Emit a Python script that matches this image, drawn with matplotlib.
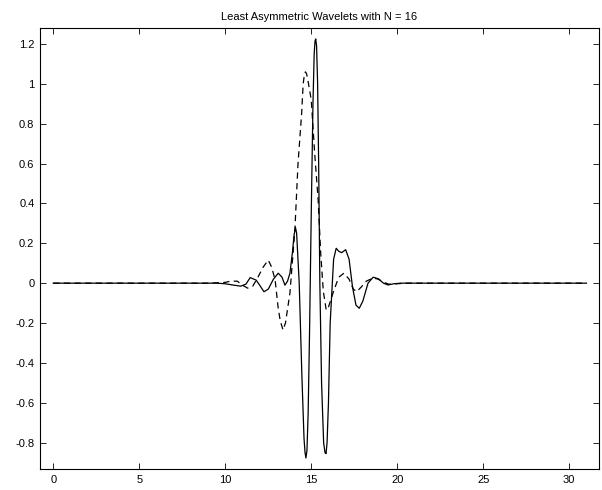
#!/usr/bin/env python

import matplotlib
matplotlib.use('Agg')

import numpy as np
from matplotlib import pyplot as plt

# wavelet function (solid)
psi_x = [0, 8.5, 9.5, 10.0, 10.5, 10.9, 11.2, 11.45, 11.8, 12.0, 12.25, 12.5, 12.8,
         13.08, 13.3, 13.47, 13.62, 13.76, 13.9, 14.0, 14.08, 14.15, 14.3, 14.45,
         14.58, 14.64, 14.69, 14.75, 14.82, 14.9, 15.0, 15.1, 15.17, 15.22, 15.26,
         15.31, 15.37, 15.43, 15.5, 15.6, 15.72, 15.8, 15.86, 15.92, 16.0, 16.1,
         16.3, 16.45, 16.6, 16.77, 17.0, 17.2, 17.4, 17.6, 17.79, 18.0, 18.3, 18.6,
         18.9, 19.2, 19.46, 19.8, 20.2, 31]
psi_y = [0, 0, 0, -0.003, -0.01, -0.015, -0.005, 0.028, 0.015, -0.01, -0.043, -0.03, 0.02,
         0.05, 0.03, -0.01, 0.01, 0.05, 0.15, 0.24, 0.28, 0.25, 0.0, -0.45,
         -0.78, -0.85, -0.877, -0.84, -0.65, -0.25, 0.35, 0.9, 1.15, 1.215, 1.225,
         1.19, 1.0, 0.6, 0.0, -0.5, -0.8, -0.85, -0.855, -0.8, -0.6, -0.2,
         0.12, 0.175, 0.16, 0.153, 0.168, 0.12, -0.02, -0.11, -0.126, -0.09, 0.0, 0.03,
         0.022, 0.0, -0.009, -0.003, 0.0, 0]

# scaling function (dashed)
phi_x = [0, 9.0, 10.0, 10.3, 10.7, 11.0, 11.3, 11.6, 11.9, 12.2, 12.5, 12.7, 12.9,
         13.07, 13.2, 13.36, 13.5, 13.76, 14.05, 14.23, 14.44, 14.53, 14.6, 14.66,
         14.73, 14.8, 15.0, 15.2, 15.4, 15.55, 15.7, 15.87, 16.0, 16.3, 16.6, 16.9,
         17.2, 17.45, 17.64, 17.9, 18.2, 18.6, 18.9, 19.2, 19.5, 20.0, 20.5, 31]
phi_y = [0, 0, 0.004, 0.01, 0.01, -0.01, -0.025, -0.015, 0.03, 0.08, 0.116, 0.08, 0.016,
         -0.12, -0.19, -0.235, -0.2, -0.05, 0.27, 0.6, 0.85, 1.0, 1.045, 1.06,
         1.05, 1.02, 0.92, 0.65, 0.42, 0.15, -0.04, -0.135, -0.12, -0.04, 0.03, 0.05,
         0.02, -0.03, -0.043, -0.02, 0.01, 0.026, 0.02, 0.005, -0.005, -0.003, 0.0, 0]

plt.rcParams['font.family'] = ['Liberation Sans', 'DejaVu Sans']
plt.rcParams['font.size'] = 8

fig = plt.figure(figsize=(6.02, 4.90), dpi=100)
ax = fig.add_axes([0.0664, 0.0429, 0.9286, 0.9])
ax.plot(psi_x, psi_y, 'k-', lw=0.9)
ax.plot(phi_x, phi_y, 'k--', lw=0.9, dashes=(5, 3.5))
ax.set_xlim(-0.773, 31.73)
ax.set_ylim(-0.932, 1.28)
ax.set_xticks(np.arange(0, 31, 5))
ax.set_yticks(np.arange(-0.8, 1.21, 0.2))
ax.set_yticklabels(['-0.8', '-0.6', '-0.4', '-0.2', '0', '0.2', '0.4', '0.6', '0.8', '1', '1.2'])
ax.tick_params(direction='in', top=True, right=True, length=4, width=0.6, pad=4)
for s in ax.spines.values():
    s.set_linewidth(0.8)
ax.set_title('Least Asymmetric Wavelets with N = 16', fontsize=8, pad=6)
plt.savefig('out.png', dpi=100)
